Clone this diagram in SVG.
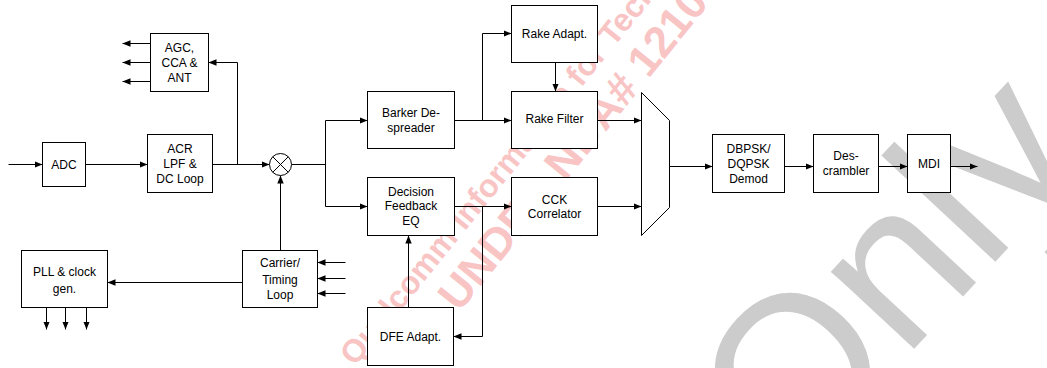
<svg xmlns="http://www.w3.org/2000/svg" width="1047" height="368" viewBox="0 0 1047 368">
<defs>
<marker id="ah" viewBox="0 0 10 10" refX="10" refY="5" markerWidth="8" markerHeight="8" markerUnits="userSpaceOnUse" orient="auto"><path d="M0,1 L10,5 L0,9 z" fill="#000"/></marker>
</defs>
<style>
.box{fill:#fff;stroke:#000;stroke-width:1}
.t{font-family:"Liberation Sans",Arial,sans-serif;font-size:12px;fill:#000;text-anchor:middle}
.c{fill:none;stroke:#000;stroke-width:1}
.a{marker-end:url(#ah)}
.wm{font-family:"Liberation Sans",Arial,sans-serif;font-weight:bold;fill:#f8c4c4}
.only{font-family:"Liberation Sans",Arial,sans-serif;font-size:215px;fill:#cccccc}
</style>
<rect width="1047" height="368" fill="#fff"/>
<g id="watermark">
<text class="only" transform="translate(790,482) rotate(-47)">Only</text>
<text class="wm" font-size="32" transform="translate(355,367) rotate(-51)">Qualcomm Information for Technical</text>
<text class="wm" font-size="44" transform="translate(459,313) rotate(-51)">UNDER NDA# 12108</text>
</g>
<g transform="translate(0.5,0.5)">
<g id="connectors">
<path class="c a" d="M8,164 H42"/>
<path class="c a" d="M85,164 H147"/>
<path class="c a" d="M212,164 H269"/>
<path class="c a" d="M237,164 V62 H208"/>
<path class="c a" d="M150,43 H122"/>
<path class="c a" d="M150,62 H122"/>
<path class="c a" d="M150,81 H122"/>
<path class="c" d="M291,164 H325 M325,120 V206"/>
<path class="c a" d="M325,120 H367"/>
<path class="c a" d="M325,206 H367"/>
<path class="c a" d="M454,120 H511"/>
<path class="c a" d="M482,120 V33 H511"/>
<path class="c a" d="M555,62 V91"/>
<path class="c a" d="M597,120 H641"/>
<path class="c a" d="M454,206 H511"/>
<path class="c a" d="M482,206 V336 H453"/>
<path class="c a" d="M597,206 H641"/>
<path class="c a" d="M669,166 H712"/>
<path class="c a" d="M784,166 H813"/>
<path class="c a" d="M878,166 H907"/>
<path class="c a" d="M950,166 H977"/>
<path class="c a" d="M280,250 V175"/>
<path class="c a" d="M242,282 H107"/>
<path class="c a" d="M345,262 H317"/>
<path class="c a" d="M345,278 H317"/>
<path class="c a" d="M345,293 H317"/>
<path class="c a" d="M408,307 V235"/>
<path class="c a" d="M46,307 V329"/>
<path class="c a" d="M65,307 V329"/>
<path class="c a" d="M86,307 V329"/>
</g>
<g id="adc"><rect class="box" x="42" y="142" width="43" height="44"/><text class="t" x="63.5" y="168">ADC</text></g>
<g id="acr"><rect class="box" x="147" y="134" width="65" height="58"/><text class="t" x="179.5" y="152">ACR</text><text class="t" x="179.5" y="167">LPF &amp;</text><text class="t" x="179.5" y="182">DC Loop</text></g>
<g id="agc"><rect class="box" x="150" y="33" width="58" height="58"/><text class="t" x="179" y="51">AGC,</text><text class="t" x="179" y="66">CCA &amp;</text><text class="t" x="179" y="81">ANT</text></g>
<g id="mixer"><circle cx="280" cy="164" r="11" fill="#fff" stroke="#000"/><path class="c" d="M272.2,156.2 L287.8,171.8 M287.8,156.2 L272.2,171.8"/></g>
<g id="barker"><rect class="box" x="367" y="91" width="87" height="57"/><text class="t" x="410.5" y="116">Barker De-</text><text class="t" x="410.5" y="131">spreader</text></g>
<g id="dfeq"><rect class="box" x="367" y="177" width="87" height="58"/><text class="t" x="410.5" y="195">Decision</text><text class="t" x="410.5" y="209">Feedback</text><text class="t" x="410.5" y="224">EQ</text></g>
<g id="dfeadapt"><rect class="box" x="367" y="307" width="86" height="58"/><text class="t" x="410" y="340">DFE Adapt.</text></g>
<g id="rakeadapt"><rect class="box" x="511" y="5" width="86" height="57"/><text class="t" x="554" y="37">Rake Adapt.</text></g>
<g id="rakefilter"><rect class="box" x="511" y="91" width="86" height="57"/><text class="t" x="554" y="122">Rake Filter</text></g>
<g id="cck"><rect class="box" x="511" y="177" width="86" height="58"/><text class="t" x="554" y="203">CCK</text><text class="t" x="554" y="217">Correlator</text></g>
<g id="mux"><polygon class="box" points="641,92 669,120 669,207 641,235"/></g>
<g id="demod"><rect class="box" x="712" y="134" width="72" height="58"/><text class="t" x="748" y="152">DBPSK/</text><text class="t" x="748" y="167">DQPSK</text><text class="t" x="748" y="182">Demod</text></g>
<g id="descrambler"><rect class="box" x="813" y="134" width="65" height="58"/><text class="t" x="845.5" y="159">Des-</text><text class="t" x="845.5" y="174">crambler</text></g>
<g id="mdi"><rect class="box" x="907" y="134" width="43" height="58"/><text class="t" x="928.5" y="167">MDI</text></g>
<g id="pll"><rect class="box" x="21" y="250" width="86" height="57"/><text class="t" x="64" y="275">PLL &amp; clock</text><text class="t" x="64" y="292">gen.</text></g>
<g id="carrier"><rect class="box" x="242" y="250" width="75" height="57"/><text class="t" x="279.5" y="266">Carrier/</text><text class="t" x="279.5" y="283">Timing</text><text class="t" x="279.5" y="298">Loop</text></g>
</g>
</svg>
